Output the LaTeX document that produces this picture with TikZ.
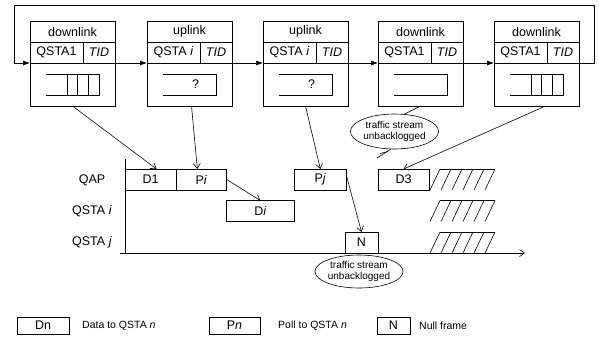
\documentclass[tikz,border=0pt]{standalone}
\usepackage{fontspec}
\setmainfont{Liberation Sans}
\usetikzlibrary{arrows.meta,positioning,shapes.geometric}
\tikzset{
    ln/.style={line width=0.6pt},
    big/.style={font=\fontsize{12.5}{14}\selectfont},
    cell/.style={draw,ln,big,inner sep=0pt,outer sep=0pt,anchor=north west},
    frm/.style={cell,minimum height=21},
    note/.style={draw,ln,ellipse,inner sep=0pt,align=center,font=\fontsize{10}{11}\selectfont},
    key/.style={inner sep=0pt,anchor=west,font=\fontsize{10.5}{12}\selectfont},
    tx/.style={ln,-{Straight Barb[length=5pt,width=7pt]}},
    loop/.style={ln,-{Latex[length=7pt,width=5pt]}},
}
\newcommand\LinkBox[4]{%
    \node[cell,minimum width=85,minimum height=20.5] (#1h) at (#2,21.5) {#3};
    \node[cell,minimum width=53,minimum height=21] (#1s) at (#1h.south west) {#4};
    \node[cell,minimum width=32,minimum height=21] (#1t) at (#1s.north east) {\textit{TID}};
    \node[cell,minimum width=85,minimum height=43] (#1) at (#1s.south west) {};
}
\newcommand\Queue[1]{%
    \draw[ln] ([shift={(-26.5,-10.5)}]#1.center) -| ([shift={(26.5,10.5)}]#1.center) -- ([shift={(-26.5,10.5)}]#1.center);
}

\begin{document}
\begin{tikzpicture}[x=1pt,y=-1pt]
    \useasboundingbox (0,0) rectangle (599,338);
    \LinkBox{b1}{30}{downlink}{QSTA1}
    \LinkBox{b2}{147}{uplink}{QSTA \textit{i}}
    \LinkBox{b3}{263}{uplink}{QSTA \textit{i}}
    \LinkBox{b4}{378}{downlink}{QSTA1}
    \LinkBox{b5}{494}{downlink}{QSTA1}
    \foreach \b in {b1,b2,b3,b4,b5} \Queue{\b}
    \foreach \b in {b1,b5}
        \foreach \q in {-5.5,5,15.5}
            \draw[ln] ([shift={(\q,-10.5)}]\b.center) -- ([shift={(\q,10.5)}]\b.center);
    \node[big] (q2) at ([xshift=6pt]b2.center) {?};
    \node[big] (q3) at ([xshift=6pt]b3.center) {?};
    \draw[loop] (b5.north east) -- (594,63) |- (14,5) |- (b1.north west);
    \foreach \a/\b in {b1/b2,b2/b3,b3/b4,b4/b5}
        \draw[loop] (\a.north east) -- (\b.north west);

    \coordinate (AxisTop) at (125,159);
    \coordinate (Origin) at (125,253);
    \coordinate (AxisStart) at (120,253);
    \coordinate (AxisEnd) at (525,253);
    \draw[ln] (AxisTop) -- (Origin);
    \draw[tx] (AxisStart) -- (AxisEnd);
    \node[big] (qap) at (92,180) {QAP};
    \node[big] (qi) at (92,211) {QSTA \textit{i}};
    \node[big] (qj) at (92,242) {QSTA \textit{j}};

    \node[frm,minimum width=51] (d1) at (125,169) {D1};
    \node[frm,minimum width=50.7,right=0pt of d1] (pi) {P\textit{i}};
    \node[frm,minimum width=67.3] (di) at (226.7,200.5) {D\textit{i}};
    \node[frm,minimum width=52.7] (pj) at (294,169) {P\textit{j}};
    \node[frm,minimum width=33] (nul) at (345,232) {N};
    \node[frm,minimum width=51] (d3) at (378,169) {D3};
    \foreach \y in {169,200.5,232} {
        \draw[ln] (440,\y) -- (495,\y);
        \foreach \k in {0,...,5}
            \draw[ln] (440+11*\k,\y) -- (430+11*\k,\y+21);
    }

    \draw[tx] (b1.south) -- ([xshift=6pt]d1.north);
    \draw[tx] ([xshift=2pt]b2.south) -- ([xshift=-4pt]pi.north);
    \draw[tx] (b3.south) -- (pj.north);
    \draw[tx] ([xshift=9pt]b5.south) -- (d3.north);
    \draw[tx] (pi.east) -- (di.north);
    \draw[tx] ([yshift=3pt]pj.east) -- (nul.north);

    \node[note,minimum width=80,minimum height=35] (ts1) at (394.5,131.5) {traffic stream\\unbacklogged};
    \node[note,minimum width=82,minimum height=33] (ts2) at (359,271.5) {traffic stream\\unbacklogged};
    \coordinate (cut) at (377,158);
    \draw[ln] (b4.south) -- (ts1.60);
    \draw[ln] (ts1.258) -- (cut);
    \draw[ln] (380,153.5) -- (388,151.5);

    \node[frm,minimum width=52,minimum height=17] (kd) at (17,317) {Dn};
    \node[key] (kdt) at (82,325.5) {Data to QSTA \textit{n}};
    \node[frm,minimum width=51,minimum height=17] (kp) at (209,317) {P\textit{n}};
    \node[key] (kpt) at (278,325.5) {Poll to QSTA \textit{n}};
    \node[frm,minimum width=33,minimum height=17] (kn) at (377,317) {N};
    \node[key] (knt) at (419,325.5) {Null frame};
\end{tikzpicture}
\end{document}
